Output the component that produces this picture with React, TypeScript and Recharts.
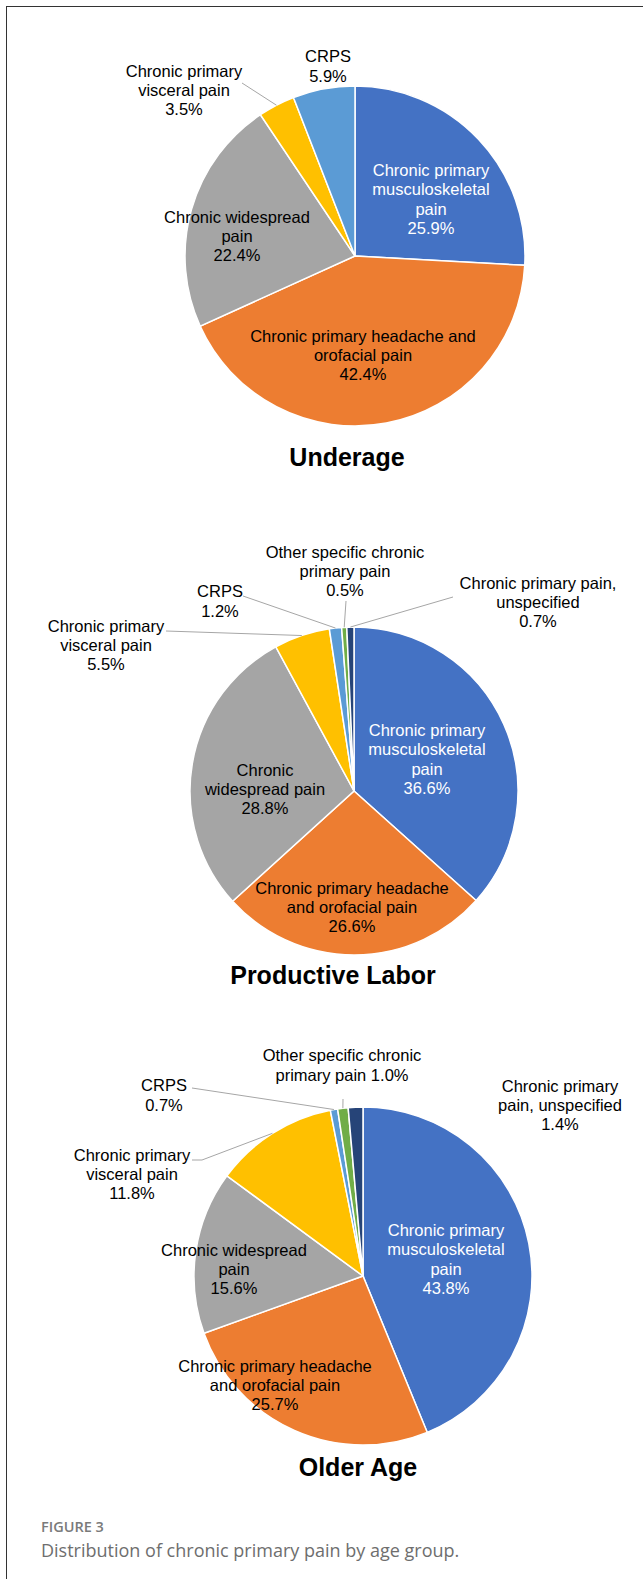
import React from 'react';
import { PieChart, Pie, Cell } from 'recharts';

// pain categories, in slice order (clockwise from 12 o'clock)
const categories = [
  'Chronic primary musculoskeletal pain',
  'Chronic primary headache and orofacial pain',
  'Chronic widespread pain',
  'Chronic primary visceral pain',
  'CRPS',
  'Other specific chronic primary pain',
  'Chronic primary pain, unspecified',
];

const colors = ['#4472C4', '#ED7D31', '#A5A5A5', '#FFC000', '#5B9BD5', '#70AD47', '#264478'];

// percentages per age group
const underageValues = [25.9, 42.4, 22.4, 3.5, 5.9];
const laborValues = [36.6, 26.6, 28.8, 5.5, 1.2, 0.5, 0.7];
const olderValues = [43.8, 25.7, 15.6, 11.8, 0.7, 1.0, 1.4];

// label text, {v} is replaced by the percentage
const underageLabels = [
  ['Chronic primary', 'musculoskeletal', 'pain', '{v}'],
  ['Chronic primary headache and', 'orofacial pain', '{v}'],
  ['Chronic widespread', 'pain', '{v}'],
  ['Chronic primary', 'visceral pain', '{v}'],
  ['CRPS', '{v}'],
];
const laborLabels = [
  ['Chronic primary', 'musculoskeletal', 'pain', '{v}'],
  ['Chronic primary headache', 'and orofacial pain', '{v}'],
  ['Chronic', 'widespread pain', '{v}'],
  ['Chronic primary', 'visceral pain', '{v}'],
  ['CRPS', '{v}'],
  ['Other specific chronic', 'primary pain', '{v}'],
  ['Chronic primary pain,', 'unspecified', '{v}'],
];
const olderLabels = [
  ['Chronic primary', 'musculoskeletal', 'pain', '{v}'],
  ['Chronic primary headache', 'and orofacial pain', '{v}'],
  ['Chronic widespread', 'pain', '{v}'],
  ['Chronic primary', 'visceral pain', '{v}'],
  ['CRPS', '{v}'],
  ['Other specific chronic', 'primary pain {v}'],
  ['Chronic primary', 'pain, unspecified', '{v}'],
];

// label placement relative to the pie centre (dx, dy = centre of text block)
// lead = leader line points (relative), ending at the slice edge
type LabelPos = { dx: number; dy: number; lead?: number[][] };
const underageLayout: LabelPos[] = [
  { dx: 76, dy: -57 },
  { dx: 8, dy: 99 },
  { dx: -118, dy: -20 },
  { dx: -171, dy: -166, lead: [[-113, -173]] },
  { dx: -27, dy: -190 },
];
const laborLayout: LabelPos[] = [
  { dx: 73, dy: -32 },
  { dx: -2, dy: 116 },
  { dx: -89, dy: -2 },
  { dx: -248, dy: -146, lead: [[-188, -160]] },
  { dx: -134, dy: -190, lead: [[-111, -195]] },
  { dx: -9, dy: -220, lead: [[-8, -190]] },
  { dx: 184, dy: -189, lead: [[99, -194]] },
];
const olderLayout: LabelPos[] = [
  { dx: 83, dy: -17 },
  { dx: -88, dy: 109 },
  { dx: -129, dy: -7 },
  { dx: -231, dy: -102, lead: [[-171, -116], [-161, -116]] },
  { dx: -199, dy: -181, lead: [[-171, -188]] },
  { dx: -21, dy: -211, lead: [[-20, -177]] },
  { dx: 197, dy: -171 },
];

const FONT = '"Liberation Sans", Arial, sans-serif';
const FS = 16.5;
const LH = 19.3;
const RAD = Math.PI / 180;

const makeData = (values: number[]) =>
  values.map((v, i) => ({ name: categories[i], value: v }));

const makeLabel = (labels: string[][], layout: LabelPos[]) => (props: any) => {
  const { cx, cy, midAngle, outerRadius, index, value } = props;
  const pos = layout[index];
  const lines = labels[index].map((l) => l.replace('{v}', `${value.toFixed(1)}%`));
  const tx = cx + pos.dx;
  const top = cy + pos.dy - ((lines.length - 1) * LH) / 2 + FS * 0.36;
  let leader = null;
  if (pos.lead) {
    const ex = cx + outerRadius * Math.cos(-midAngle * RAD);
    const ey = cy + outerRadius * Math.sin(-midAngle * RAD);
    const pts = pos.lead.map((p) => `${cx + p[0]},${cy + p[1]}`).concat(`${ex},${ey}`);
    leader = <polyline points={pts.join(' ')} fill="none" stroke="#A6A6A6" strokeWidth={1} />;
  }
  return (
    <g key={`lbl-${index}`}>
      {leader}
      <text
        x={tx}
        y={top}
        textAnchor="middle"
        fontFamily={FONT}
        fontSize={FS}
        fill={index === 0 ? '#ffffff' : '#000000'}
      >
        {lines.map((l, k) => (
          <tspan key={k} x={tx} y={top + k * LH}>
            {l}
          </tspan>
        ))}
      </text>
    </g>
  );
};

const groups = [
  { values: underageValues, labels: underageLabels, layout: underageLayout, cx: 350, cy: 251, r: 170 },
  { values: laborValues, labels: laborLabels, layout: laborLayout, cx: 349, cy: 786, r: 164 },
  { values: olderValues, labels: olderLabels, layout: olderLayout, cx: 358, cy: 1271, r: 169 },
];

const titles = [
  { text: 'Underage', x: 347, y: 466 },
  { text: 'Productive Labor', x: 333, y: 984 },
  { text: 'Older Age', x: 358, y: 1476 },
];

export default function App() {
  return (
    <div style={{ position: 'absolute', left: 0, top: 0, width: 643, height: 1579, background: '#fff', overflow: 'hidden' }}>
      <div
        style={{
          position: 'absolute',
          left: 6,
          top: 6,
          width: 660,
          height: 1600,
          borderLeft: '1.5px solid #333',
          borderTop: '1.5px solid #333',
        }}
      />
      <div style={{ position: 'absolute', left: 0, top: 0 }}>
        <PieChart width={643} height={1579}>
          {groups.map((g, gi) => (
            <Pie
              key={gi}
              data={makeData(g.values)}
              dataKey="value"
              nameKey="name"
              cx={g.cx}
              cy={g.cy}
              outerRadius={g.r}
              startAngle={90}
              endAngle={-270}
              stroke="#ffffff"
              strokeWidth={1.5}
              label={makeLabel(g.labels, g.layout)}
              labelLine={false}
              isAnimationActive={false}
            >
              {g.values.map((_, i) => (
                <Cell key={i} fill={colors[i]} />
              ))}
            </Pie>
          ))}
        </PieChart>
      </div>
      <svg width={643} height={1579} style={{ position: 'absolute', left: 0, top: 0, pointerEvents: 'none' }}>
        {titles.map((t) => (
          <text key={t.text} x={t.x} y={t.y} textAnchor="middle" fontFamily={FONT} fontWeight="bold" fontSize={25} fill="#000">
            {t.text}
          </text>
        ))}
        <text x={41} y={1532} fontFamily='"Open Sans", sans-serif' fontWeight={600} fontSize={14.5} fill="#7a7a7a">
          FIGURE 3
        </text>
        <text x={41} y={1557} fontFamily='"Open Sans", sans-serif' fontSize={18} fill="#6e6e6e">
          Distribution of chronic primary pain by age group.
        </text>
      </svg>
    </div>
  );
}
